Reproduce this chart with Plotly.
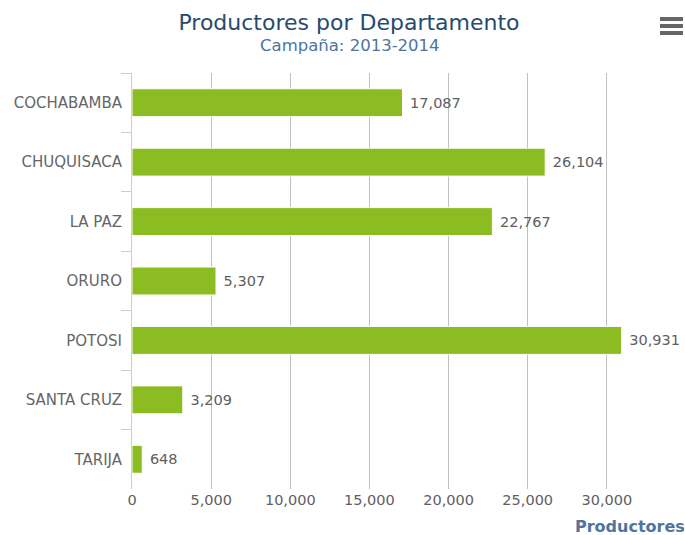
import plotly.graph_objects as go

departamentos = ["COCHABAMBA", "CHUQUISACA", "LA PAZ", "ORURO", "POTOSI", "SANTA CRUZ", "TARIJA"]
productores = [17087, 26104, 22767, 5307, 30931, 3209, 648]
x_ticks = [0, 5000, 10000, 15000, 20000, 25000, 30000]

FONT = "DejaVu Sans"

fig = go.Figure(go.Bar(
    y=departamentos,
    x=productores,
    orientation="h",
    marker=dict(color="#8BBC21", line=dict(color="#FFFFFF", width=1)),
    text=productores,
    texttemplate=" %{x:,}",
    textposition="outside",
    cliponaxis=False,
    textfont=dict(family=FONT, size=14.5, color="#606060"),
    hoverinfo="skip",
))

fig.update_layout(
    width=685, height=535,
    margin=dict(l=132, r=5, t=73, b=46),
    paper_bgcolor="white", plot_bgcolor="white",
    bargap=0.53,
    showlegend=False,
    font=dict(family=FONT, color="#666666"),
    title=dict(
        text="Productores por Departamento",
        x=349 / 685, xanchor="center", xref="container",
        y=1 - 22 / 535, yanchor="middle",
        font=dict(family=FONT, size=22, color="#274b6d"),
    ),
    annotations=[
        dict(text="Campaña: 2013-2014", xref="paper", yref="paper",
             x=(350 - 132) / 548, y=1, yshift=28, xanchor="center", yanchor="middle",
             showarrow=False, font=dict(family=FONT, size=16.5, color="#4d759e")),
        dict(text="<b>Productores</b>", xref="paper", yref="paper",
             x=1, y=0, xshift=7, yshift=-37, xanchor="right", yanchor="middle",
             showarrow=False, font=dict(family=FONT, size=16, color="#4d759e")),
    ],
)

# hamburger menu icon (decoration)
for yy in [19, 26, 33]:
    fig.add_shape(type="line", xref="paper", yref="paper",
                  x0=(660 - 132) / 548, x1=(683 - 132) / 548,
                  y0=(535 - 46 - yy) / 416, y1=(535 - 46 - yy) / 416,
                  line=dict(color="#666666", width=4))

fig.update_xaxes(
    range=[0, 34620],
    tickvals=x_ticks,
    tickformat=",",
    showgrid=True, gridcolor="#C0C0C0", gridwidth=1,
    zeroline=False, showline=False,
    ticks="",
    tickfont=dict(family=FONT, size=14.5, color="#606060"),
    fixedrange=True,
)
fig.update_yaxes(
    autorange="reversed",
    showgrid=False,
    showline=True, linecolor="#C0D0E0", linewidth=1,
    ticks="outside", tickson="boundaries", ticklen=10, tickcolor="#C0D0E0",
    tickfont=dict(family=FONT, size=15, color="#666666"),
    ticklabelstandoff=6,
    fixedrange=True,
)

fig.write_html("out.html", config={"displayModeBar": False},
               post_script="document.body.style.margin='0';document.body.style.overflow='hidden';")
